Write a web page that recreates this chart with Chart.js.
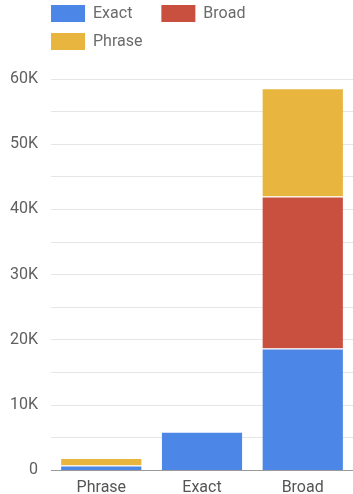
<!DOCTYPE html>
<html>
<head>
<meta charset="utf-8">
<script src="https://cdn.jsdelivr.net/npm/chart.js@4.4.0/dist/chart.umd.min.js"></script>
<style>
    body { margin: 0; background: #fff; }
    #caixa { width: 353px; height: 494px; }
</style>
</head>
<body>
<div id="caixa"><canvas id="graficoTipos"></canvas></div>
<script>
// dados
const categorias = ['Phrase', 'Exact', 'Broad'];
const valoresExact = [770, 5930, 18700];
const valoresBroad = [0, 0, 23300];
const valoresPhrase = [1140, 0, 16600];
const rotulosEixoY = ['0', '10K', '20K', '30K', '40K', '50K', '60K'];

// legenda desenhada acima da area do grafico (quadrado + texto)
const legendaTopo = {
    id: 'legendaTopo',
    afterDraw(chart) {
        const ctx = chart.ctx;
        const area = chart.chartArea;
        let x = area.left;
        let y = 5;
        ctx.save();
        ctx.font = '16px Roboto';
        ctx.textBaseline = 'middle';
        chart.data.datasets.forEach(function (ds) {
            const largura = 34 + 8 + ctx.measureText(ds.label).width;
            if (x > area.left && x + largura > area.right) {
                x = area.left;
                y += 28;
            }
            ctx.fillStyle = ds.backgroundColor;
            ctx.fillRect(x, y, 34, 17);
            ctx.fillStyle = '#6b6b6b';
            ctx.fillText(ds.label, x + 42, y + 9);
            x += largura + 29;
        });
        ctx.restore();
    }
};

Chart.defaults.font.family = 'Roboto';
Chart.defaults.font.size = 16;

const dados = {
    labels: categorias,
    datasets: [{
        label: 'Exact',
        data: valoresExact,
        backgroundColor: '#4c86e6'
    },
    {
        label: 'Broad',
        data: valoresBroad,
        backgroundColor: '#c9503e'
    },
    {
        label: 'Phrase',
        data: valoresPhrase,
        backgroundColor: '#e8b53f'
    }]
};

dados.datasets.forEach(function (ds) {
    ds.borderColor = '#ffffff';
    ds.borderWidth = { top: 1, left: 0, right: 0, bottom: 0 };
    ds.barPercentage = 0.8;
    ds.categoryPercentage = 1;
});

const config = {
    type: 'bar',
    data: dados,
    options: {
        responsive: true,
        maintainAspectRatio: false,
        animation: false,
        layout: {
            padding: { top: 79, left: -3, right: 0, bottom: -12 }
        },
        plugins: {
            legend: { display: false },
            tooltip: { enabled: false }
        },
        scales: {
            x: {
                stacked: true,
                grid: { display: false, drawTicks: false },
                border: { display: true, color: '#9a9a9a' },
                ticks: {
                    color: '#555',
                    padding: 9,
                    font: { size: 16, lineHeight: 1.1 }
                }
            },
            y: {
                stacked: true,
                min: 0,
                max: 60000,
                border: { display: false },
                grid: {
                    drawTicks: false,
                    color: function (c) {
                        return c.tick.value === 0 ? '#9a9a9a' : '#e6e6e6';
                    }
                },
                ticks: {
                    stepSize: 5000,
                    autoSkip: false,
                    color: '#5f5f5f',
                    padding: 13,
                    callback: function (valor) {
                        if (valor % 10000 !== 0) return '';
                        return rotulosEixoY[valor / 10000];
                    }
                }
            }
        }
    },
    plugins: [legendaTopo]
};

const myChart = new Chart(document.getElementById('graficoTipos'), config);
</script>
</body>
</html>
